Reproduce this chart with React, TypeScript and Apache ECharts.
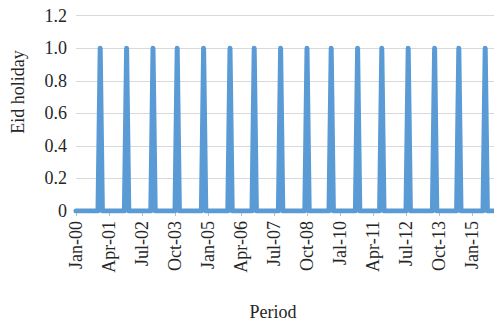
import React, { useEffect, useRef } from "react";
import * as echarts from "echarts";

// Monthly periods covered by the series (first and last month, inclusive)
const startYear = 2000;
const monthCount = 191; // Jan 2000 .. Nov 2015

// Months in which Eid falls (value 1), every other month is 0
const eidMonths = [
  "2000-12", "2001-12", "2002-12", "2003-11", "2004-11", "2005-11",
  "2006-10", "2007-10", "2008-10", "2009-09", "2010-09", "2011-08",
  "2012-08", "2013-08", "2014-07", "2015-07",
];

// Axis tick labels, one every 15 months starting at Jan 2000
const xTickLabels = [
  "Jan-00", "Apr-01", "Jul-02", "Oct-03", "Jan-05", "Apr-06", "Jul-07",
  "Oct-08", "Jal-10", "Apr-11", "Jul-12", "Oct-13", "Jan-15",
];
const xTickStep = 15;

const FONT = "Liberation Serif";
const TEXT = "#262626";

export default function App() {
  const ref = useRef<HTMLDivElement>(null);

  useEffect(() => {
    if (!ref.current) return;
    const chart = echarts.init(ref.current, undefined, { renderer: "svg" });

    const months: string[] = [];
    for (let i = 0; i < monthCount; i++) {
      const y = startYear + Math.floor(i / 12);
      const m = (i % 12) + 1;
      months.push(`${y}-${String(m).padStart(2, "0")}`);
    }
    const eidSet = new Set(eidMonths);
    const values = months.map((m) => (eidSet.has(m) ? 1 : 0));

    chart.setOption({
      animation: false,
      backgroundColor: "#ffffff",
      textStyle: { fontFamily: FONT },
      grid: { left: 76, right: 0, top: 15.7, bottom: 113, containLabel: false },
      xAxis: {
        type: "category",
        data: months,
        boundaryGap: false,
        axisLine: { show: true, lineStyle: { color: "#BFBFBF", width: 1 } },
        axisTick: {
          show: true,
          interval: xTickStep - 1,
          length: 5,
          lineStyle: { color: "#BFBFBF" },
        },
        axisLabel: {
          interval: xTickStep - 1,
          rotate: 90,
          margin: 10,
          color: TEXT,
          fontFamily: FONT,
          fontSize: 18,
          formatter: (_v: string, idx: number) => xTickLabels[Math.round(idx / xTickStep)] ?? "",
        },
        splitLine: { show: false },
      },
      yAxis: {
        type: "value",
        min: 0,
        max: 1.2,
        interval: 0.2,
        axisLine: { show: false },
        axisTick: { show: false },
        axisLabel: {
          margin: 9,
          color: TEXT,
          fontFamily: FONT,
          fontSize: 18,
          formatter: (v: number) => (v === 0 ? "0" : v.toFixed(1)),
        },
        splitLine: { show: true, lineStyle: { color: "#D9D9D9", width: 1 } },
      },
      series: [
        {
          type: "line",
          data: values,
          showSymbol: false,
          lineStyle: { color: "#5B9BD5", width: 5, join: "round", cap: "round" },
          itemStyle: { color: "#5B9BD5" },
        },
      ],
      graphic: [
        {
          type: "text",
          x: 273,
          y: 312,
          style: {
            text: "Period",
            fontFamily: FONT,
            fontSize: 18,
            fill: TEXT,
            textAlign: "center",
            textVerticalAlign: "middle",
          },
        },
        {
          type: "text",
          x: 18,
          y: 92,
          rotation: Math.PI / 2,
          style: {
            text: "Eid holiday",
            fontFamily: FONT,
            fontSize: 18,
            fill: TEXT,
            textAlign: "center",
            textVerticalAlign: "middle",
          },
        },
      ],
    });

    return () => chart.dispose();
  }, []);

  return (
    <div
      ref={ref}
      style={{ position: "fixed", left: 0, top: 0, width: 494, height: 324 }}
    />
  );
}
